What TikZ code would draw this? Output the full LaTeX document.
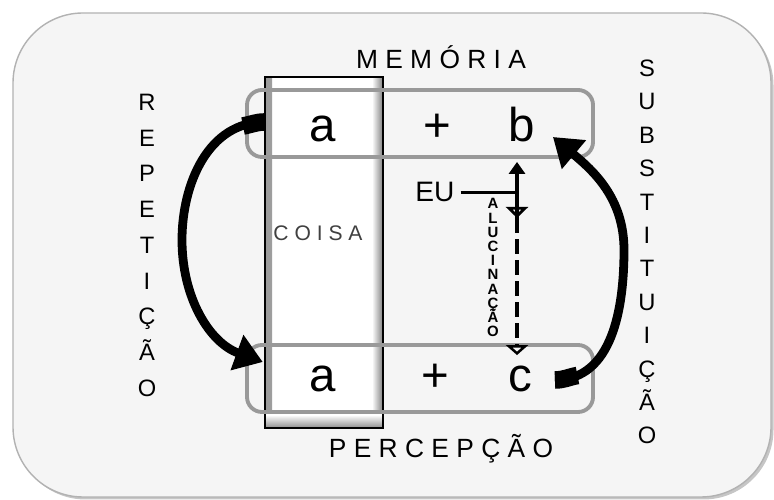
\documentclass[tikz,border=0pt]{standalone}
\usepackage{fontspec}
\setmainfont{Liberation Sans}
\usepackage{xcolor}
\usetikzlibrary{arrows.meta,positioning,calc,shadows}

\begin{document}
\begin{tikzpicture}[
    panel/.style={draw=gray!60, line width=0.8pt, fill=black!4, rounded corners=1.4cm, minimum width=15.16cm, minimum height=9.68cm, drop shadow={shadow xshift=0.05cm, shadow yshift=-0.05cm, opacity=0.45}},
    thing/.style={draw=black, line width=1.4pt, fill=white, minimum width=2.36cm, minimum height=7.02cm, inner sep=0pt,
        path picture={
            \shade[left color=black!40, right color=white] (path picture bounding box.south west) rectangle ([xshift=0.14cm]path picture bounding box.north west);
            \shade[left color=white, right color=black!50] ([xshift=-0.22cm]path picture bounding box.south east) rectangle (path picture bounding box.north east);
            \shade[top color=white, bottom color=black!45] (path picture bounding box.south west) rectangle ([yshift=0.26cm]path picture bounding box.south east);
        }},
    row/.style={draw=black!40, line width=2.2pt, rounded corners=0.3cm, minimum width=6.92cm, minimum height=1.34cm},
    term/.style={anchor=base, font=\fontsize{27}{32}\selectfont, inner sep=2pt},
    title/.style={anchor=base, font=\fontsize{15}{18}\selectfont},
    vchar/.style={anchor=base, font=\fontsize{13.5}{16}\selectfont, inner sep=0pt},
    hchar/.style={anchor=base, font=\bfseries\fontsize{8.5}{9}\selectfont, inner sep=0pt},
    swing/.style={line width=5pt, -{Triangle[length=0.55cm, width=0.72cm]}},
    euline/.style={line width=2pt},
    hallu/.style={line width=2.2pt, dash pattern=on 8.5pt off 3.5pt, -{Triangle[open, length=0.2cm, width=0.44cm]}}
]
\useasboundingbox (0,0) rectangle (15.48,10);
\node[panel] (panel) at (7.84,4.90) {};
\node[thing] (coisa) at (6.48,4.95) {};
\node[anchor=base, font=\fontsize{12}{14}\selectfont, text=black!75] (coisalbl) at (6.36,5.19) {C O I S A};
\node[row] (memrow) at (8.40,7.53) {};
\node[row] (percrow) at (8.40,2.43) {};
\node[term] (ma) at (6.46,7.16) {a};
\node[term] (mplus) at (8.74,7.16) {+};
\node[term] (mb) at (10.44,7.16) {b};
\node[term] (pa) at (6.46,2.16) {a};
\node[term] (pplus) at (8.70,2.16) {+};
\node[term] (pc) at (10.40,2.16) {c};
\node[title] (mem) at (8.82,8.62) {M E M Ó R I A};
\node[title] (perc) at (8.82,0.84) {P E R C E P Ç Ã O};
\foreach \ch [count=\i] in {R,E,P,E,T,I,Ç,Ã,O}
    \node[vchar] (rep\i) at (2.94,{7.79-0.715*(\i-1)}) {\ch};
\foreach \ch [count=\i] in {S,U,B,S,T,I,T,U,I,Ç,Ã,O}
    \node[vchar] (subs\i) at (12.94,{8.47-0.668*(\i-1)}) {\ch};
\foreach \ch [count=\i] in {A,L,U,C,I,N,A,Ç,Ã,O}
    \node[hchar] (alu\i) at (9.86,{5.82-0.284*(\i-1)}) {\ch};
\node[anchor=base, font=\fontsize{16}{19}\selectfont] (eu) at (8.70,5.96) {EU};
\coordinate (jct) at ($(eu.east -| mb.center)+(-0.1,0)$);
\coordinate (halltop) at ($(jct)+(0,-0.51)$);
\draw[euline] (eu.east) -- (jct);
\draw[euline, -{Triangle[length=0.24cm, width=0.32cm]}, shorten >=0.06cm] (jct) -- (jct |- memrow.south);
\draw[euline] (jct) -- (halltop);
\draw[euline, -{Triangle[open, length=0.22cm, width=0.44cm]}] (jct) -- (halltop);
\draw[hallu, shorten >=-0.24cm] (halltop) -- (halltop |- percrow.north);
\coordinate (repstart) at ($(coisa.west |- memrow)+(0.02,0.03)$);
\coordinate (repmid) at (3.64,5.20);
\coordinate (repend) at ($(coisa.west |- percrow)+(-0.02,0.33)$);
\draw[line width=10pt] (repstart) to[out=180,in=10] (4.86,7.48);
\draw[swing] (repstart) to[out=180,in=90] (repmid) to[out=-90,in=160] (repend);
\coordinate (subsstart) at ($(percrow.east)+(-0.8,-0.03)$);
\coordinate (subsmid) at (12.48,5.00);
\coordinate (subsend) at ($(memrow.east)+(-0.84,-0.27)$);
\draw[line width=10pt] (subsstart) to[out=0,in=190] (11.55,2.49);
\draw[swing] (subsstart) to[out=0,in=-90] (subsmid) to[out=90,in=-40] (subsend);
\end{tikzpicture}
\end{document}
